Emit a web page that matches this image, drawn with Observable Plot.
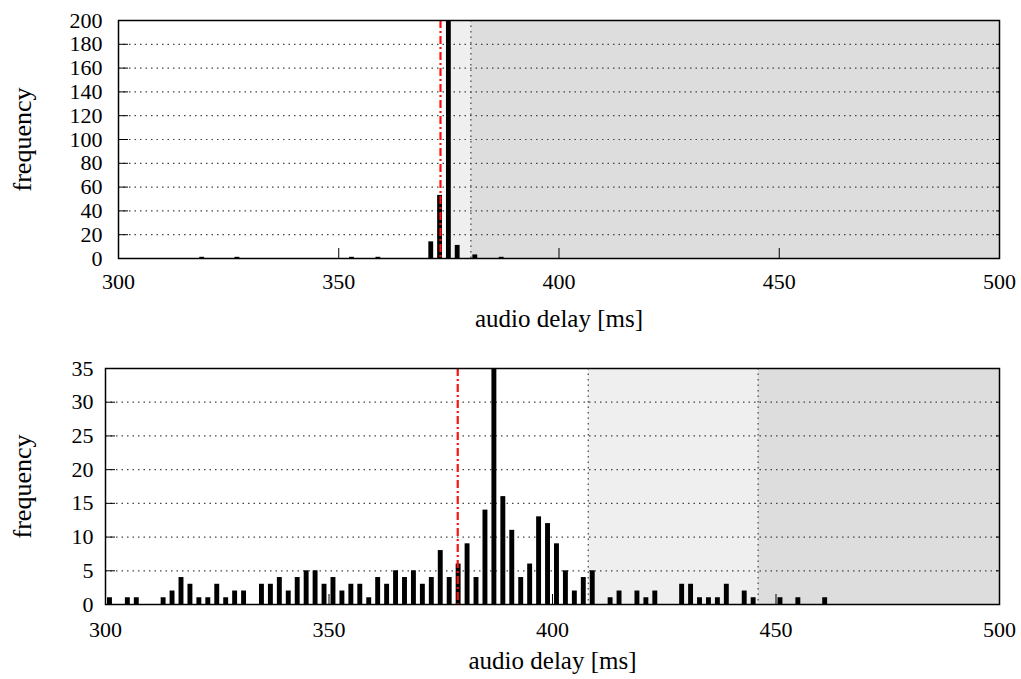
<!DOCTYPE html>
<html>
<head>
<meta charset="utf-8">
<script src="https://cdn.jsdelivr.net/npm/d3@7"></script>
<script src="https://cdn.jsdelivr.net/npm/@observablehq/plot@0.6"></script>
<style>
  html, body { margin: 0; padding: 0; background: #fff; }
  #chart svg { display: block; }
  #chart svg text { font-family: 'Liberation Serif', 'DejaVu Serif', serif !important; }
</style>
</head>
<body>
<div id="chart"></div>
<script>
// ---- Data ----
const xLabel = "audio delay [ms]";
const yLabel = "frequency";
const xTicks = [300, 350, 400, 450, 500];

// Top panel
const topDelay = [319, 327, 353, 359, 371, 373, 375, 377, 381, 387];
const topFreq  = [1, 1, 1, 1, 14, 53, 200, 11, 3, 1];
const topYTicks = [0, 20, 40, 60, 80, 100, 120, 140, 160, 180, 200];
const topMarker = 373.1;          // red dash-dot line
const topLightZone = [375, 380];  // light grey
const topDarkZone = [380, 500];   // dark grey

// Bottom panel
const botDelay = [301, 305, 307, 313, 315, 317, 319, 321, 323, 325, 327, 329, 331, 335, 337, 339, 341, 343, 345, 347, 349,
                  351, 353, 355, 357, 359, 361, 363, 365, 367, 369, 371, 373, 375, 377, 379, 381, 383, 385, 387, 389,
                  391, 393, 395, 397, 399, 401, 403, 405, 407, 409, 413, 415, 419, 421, 423, 429, 431, 433, 435, 437,
                  439, 443, 445, 451, 455, 461];
const botFreq  = [1, 1, 1, 1, 2, 4, 3, 1, 1, 3, 1, 2, 2, 3, 3, 4, 2, 4, 5, 5, 3,
                  4, 2, 3, 3, 1, 4, 3, 5, 4, 5, 3, 4, 8, 4, 6, 9, 4, 14, 35, 16,
                  11, 4, 6, 13, 12, 9, 5, 2, 4, 5, 1, 2, 2, 1, 2, 3, 3, 1, 1, 1,
                  3, 2, 1, 1, 1, 1];
const botYTicks = [0, 5, 10, 15, 20, 25, 30, 35];
const botMarker = 378.8;
const botLightZone = [408, 446];
const botDarkZone = [446, 500];

const FONT = "'Liberation Serif', 'DejaVu Serif', serif";
const dots = "1.5,4";

function panel({delay, freq, yTicks, marker, light, dark, height, mTop, mBottom, mLeft, yPad, xPad, xLabDy, yLabDx}) {
  const data = delay.map((d, i) => ({delay: d, freq: freq[i]}));
  const ymax = yTicks[yTicks.length - 1];
  return Plot.plot({
    width: 1021,
    height,
    marginTop: mTop,
    marginBottom: mBottom,
    marginLeft: mLeft,
    marginRight: 22,
    style: {fontFamily: FONT, fontSize: "22px", color: "#000", background: "#fff", overflow: "visible"},
    x: {domain: [300, 500], axis: null},
    y: {domain: [0, ymax], axis: null},
    marks: [
      Plot.rect([light], {x1: d => d[0], x2: d => d[1], fill: "#efefef"}),
      Plot.rect([dark], {x1: d => d[0], x2: d => d[1], fill: "#dddddd"}),
      Plot.gridY(yTicks.slice(1, -1), {stroke: "#444", strokeOpacity: 1, strokeDasharray: dots, strokeWidth: 1.2}),
      Plot.ruleX([light[0], dark[0]], {stroke: "#444", strokeDasharray: dots, strokeWidth: 1.2}),
      Plot.rectY(data, {x1: d => d.delay - 0.55, x2: d => d.delay + 0.55, y: "freq", fill: "#000", clip: true}),
      Plot.ruleX([marker], {stroke: "#ff1010", strokeWidth: 2.2, strokeDasharray: "8,3,2,3"}),
      // inward ticks
      Plot.axisY(yTicks, {anchor: "left", tickSize: -10, fill: "none", label: null, stroke: "#000"}),
      Plot.axisY(yTicks, {anchor: "right", tickSize: -4, fill: "none", label: null, stroke: "#000"}),
      Plot.axisX(xTicks, {anchor: "bottom", tickSize: -10, fill: "none", label: null, stroke: "#000"}),
      // tick labels
      Plot.axisY(yTicks, {anchor: "left", tickSize: 0, tickPadding: yPad, label: null, fontSize: 22, fontFamily: FONT}),
      Plot.axisX(xTicks, {anchor: "bottom", tickSize: 0, tickPadding: xPad, label: null, fontSize: 22, fontFamily: FONT}),
      Plot.frame({stroke: "#000", strokeWidth: 1.5}),
      // axis titles
      Plot.text([xLabel], {frameAnchor: "bottom", dy: xLabDy, lineAnchor: "bottom", fontSize: 25, fontFamily: FONT, text: d => d}),
      Plot.text([yLabel], {frameAnchor: "left", dx: yLabDx, rotate: -90, textAnchor: "middle", lineAnchor: "middle", fontSize: 26, fontFamily: FONT, text: d => d})
    ]
  });
}

const el = document.getElementById("chart");
el.append(panel({
  delay: topDelay, freq: topFreq, yTicks: topYTicks, marker: topMarker,
  light: topLightZone, dark: topDarkZone,
  height: 340, mTop: 20, mBottom: 82, mLeft: 118, yPad: 16, xPad: 15, xLabDy: 68, yLabDx: -96
}));
el.append(panel({
  delay: botDelay, freq: botFreq, yTicks: botYTicks, marker: botMarker,
  light: botLightZone, dark: botDarkZone,
  height: 339, mTop: 28, mBottom: 75, mLeft: 105, yPad: 12, xPad: 17, xLabDy: 64, yLabDx: -83
}));
</script>
</body>
</html>
